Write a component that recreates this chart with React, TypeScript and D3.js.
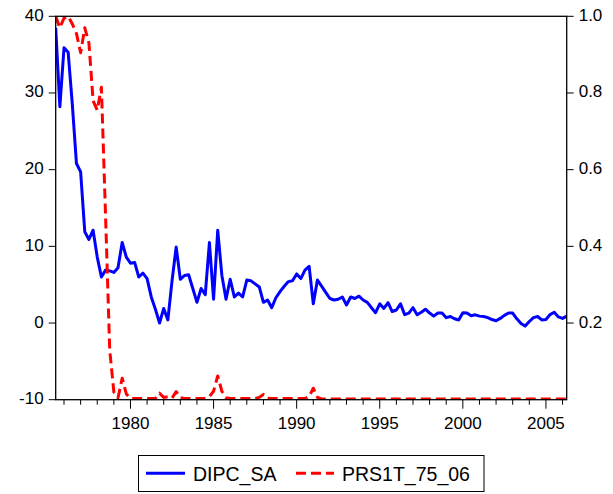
import React from "react";
import * as d3 from "d3";

// Quarterly observations 1975Q3 .. 2006Q2
const startYear = 1975;
const startQuarter = 3;

const dipcSA: number[] = [
  38.5, 28.2, 35.9, 35.3, 28.5, 20.8, 19.7, 11.9, 10.9, 12.1,
  8.6, 6.0, 6.9, 6.8, 6.6, 7.2, 10.5, 8.6, 7.8, 7.9,
  6.0, 6.5, 5.8, 3.4, 1.8, 0.0, 1.9, 0.4, 5.5, 9.9,
  5.7, 6.2, 6.3, 4.5, 2.7, 4.5, 3.7, 10.5, 3.1, 12.1,
  6.2, 3.1, 5.7, 3.4, 3.9, 3.4, 5.6, 5.5, 5.1, 4.7,
  2.7, 3.0, 2.0, 3.3, 4.1, 4.8, 5.4, 5.5, 6.4, 5.8,
  6.9, 7.4, 2.5, 5.6, 4.8, 4.0, 3.2, 3.0, 3.1, 3.4,
  2.35, 3.4, 3.2, 3.5, 3.0, 2.7, 2.0, 1.35, 2.5, 1.9,
  2.65, 1.5, 1.7, 2.5, 1.1, 1.3, 2.0, 1.07, 1.4, 1.8,
  1.3, 0.9, 1.3, 1.3, 0.7, 0.85, 0.55, 0.4, 1.35, 1.3,
  0.95, 1.07, 0.9, 0.85, 0.7, 0.45, 0.3, 0.6, 1.0, 1.3,
  1.3, 0.55, -0.05, -0.4, 0.2, 0.7, 0.85, 0.4, 0.45, 1.1,
  1.4, 0.8, 0.6, 0.9,
];

const prs1t: number[] = [
  1.0, 0.97, 0.995, 1.0, 0.98, 0.955, 0.905, 0.97, 0.93, 0.78,
  0.755, 0.815, 0.48, 0.13, 0.02, 0.005, 0.056, 0.015, 0.003, 0.003,
  0.003, 0.003, 0.003, 0.003, 0.003, 0.017, 0.006, 0.008, 0.004, 0.021,
  0.005, 0.003, 0.003, 0.003, 0.003, 0.003, 0.003, 0.008, 0.022, 0.062,
  0.022, 0.005, 0.003, 0.003, 0.003, 0.003, 0.003, 0.003, 0.003, 0.006,
  0.014, 0.004, 0.003, 0.003, 0.003, 0.003, 0.003, 0.003, 0.003, 0.003,
  0.003, 0.008, 0.03, 0.006, 0.002, 0.002, 0.002, 0.002, 0.002, 0.002,
  0.002, 0.002, 0.002, 0.002, 0.002, 0.002, 0.002, 0.002, 0.002, 0.002,
  0.002, 0.002, 0.002, 0.002, 0.002, 0.002, 0.002, 0.002, 0.002, 0.002,
  0.002, 0.002, 0.002, 0.002, 0.002, 0.002, 0.002, 0.002, 0.002, 0.002,
  0.002, 0.002, 0.002, 0.002, 0.002, 0.002, 0.002, 0.002, 0.002, 0.002,
  0.002, 0.002, 0.002, 0.002, 0.002, 0.002, 0.002, 0.002, 0.002, 0.002,
  0.002, 0.002, 0.002, 0.002,
];

const leftTicks = [-10, 0, 10, 20, 30, 40];
const rightTicks = [0.2, 0.4, 0.6, 0.8, 1.0];
const minorYears = [
  1976, 1977, 1978, 1979, 1980, 1981, 1982, 1983, 1984, 1985, 1986, 1987,
  1988, 1989, 1990, 1991, 1992, 1993, 1994, 1995, 1996, 1997, 1998, 1999,
  2000, 2001, 2002, 2003, 2004, 2005, 2006,
];
const labelYears = [1980, 1985, 1990, 1995, 2000, 2005];
const seriesNames = ["DIPC_SA", "PRS1T_75_06"];

const W = 613;
const H = 494;
const L = 55.7;
const R = 566.7;
const T = 16.3;
const B = 399.7;
const FONT = "'Liberation Sans', Arial, Helvetica, sans-serif";

export default function App() {
  const n = dipcSA.length;
  const x = d3.scaleLinear().domain([0, n - 1]).range([L, R]);
  const yL = d3.scaleLinear().domain([-10, 40]).range([B, T]);
  const yR = d3.scaleLinear().domain([0, 1]).range([B, T]);
  const yearIndex = (yr: number) => (yr - startYear) * 4 + (1 - startQuarter);

  const lineL = d3.line<number>().x((_, i) => x(i)).y((d) => yL(d));
  const lineR = d3.line<number>().x((_, i) => x(i)).y((d) => yR(d));

  return (
    <svg
      width={W}
      height={H}
      style={{ position: "absolute", left: 0, top: 0, background: "#fff" }}
      fontFamily={FONT}
    >
      <defs>
        <clipPath id="plot">
          <rect x={L} y={T - 2} width={R - L} height={B - T + 2} />
        </clipPath>
      </defs>
      <rect x={0} y={0} width={W} height={H} fill="#fff" />
      <g clipPath="url(#plot)">
        <path d={lineL(dipcSA) || ""} fill="none" stroke="#0000ff" strokeWidth={3} strokeLinejoin="round" />
        <path
          d={lineR(prs1t) || ""}
          fill="none"
          stroke="#ff0000"
          strokeWidth={3}
          strokeDasharray="10,5"
          strokeLinejoin="round"
        />
      </g>
      {/* frame */}
      <rect x={L} y={T} width={R - L} height={B - T} fill="none" stroke="#000" strokeWidth={1.3} />
      {/* left axis */}
      {leftTicks.map((t) => (
        <g key={"l" + t}>
          <line x1={L - 7} x2={L} y1={yL(t)} y2={yL(t)} stroke="#000" strokeWidth={1} />
          <text x={L - 12} y={yL(t) + 4.5} fontSize={17} textAnchor="end" fill="#000">
            {t}
          </text>
        </g>
      ))}
      {/* right axis */}
      {rightTicks.map((t) => (
        <g key={"r" + t}>
          <line x1={R} x2={R + 7} y1={yR(t)} y2={yR(t)} stroke="#000" strokeWidth={1} />
          <text x={R + 12} y={yR(t) + 4.5} fontSize={17} textAnchor="start" fill="#000">
            {t.toFixed(1)}
          </text>
        </g>
      ))}
      {/* bottom axis */}
      {minorYears.map((yr) => {
        const major = labelYears.includes(yr);
        return (
          <line
            key={"m" + yr}
            x1={x(yearIndex(yr))}
            x2={x(yearIndex(yr))}
            y1={B}
            y2={B + (major ? 9 : 5)}
            stroke="#000"
            strokeWidth={1}
          />
        );
      })}
      {labelYears.map((yr) => (
        <text key={"t" + yr} x={x(yearIndex(yr))} y={428.5} fontSize={17} textAnchor="middle" fill="#000">
          {yr}
        </text>
      ))}
      {/* legend */}
      <rect x={138.5} y={455.5} width={345.5} height={36} fill="#fff" stroke="#000" strokeWidth={1} />
      <line x1={146} x2={185} y1={473.3} y2={473.3} stroke="#0000ff" strokeWidth={3} />
      <text x={193} y={480.7} fontSize={19.5} fill="#000">
        {seriesNames[0]}
      </text>
      <line x1={296} x2={334} y1={473.3} y2={473.3} stroke="#ff0000" strokeWidth={3} strokeDasharray="10,5" />
      <text x={342} y={480.7} fontSize={19.5} fill="#000">
        {seriesNames[1]}
      </text>
    </svg>
  );
}
